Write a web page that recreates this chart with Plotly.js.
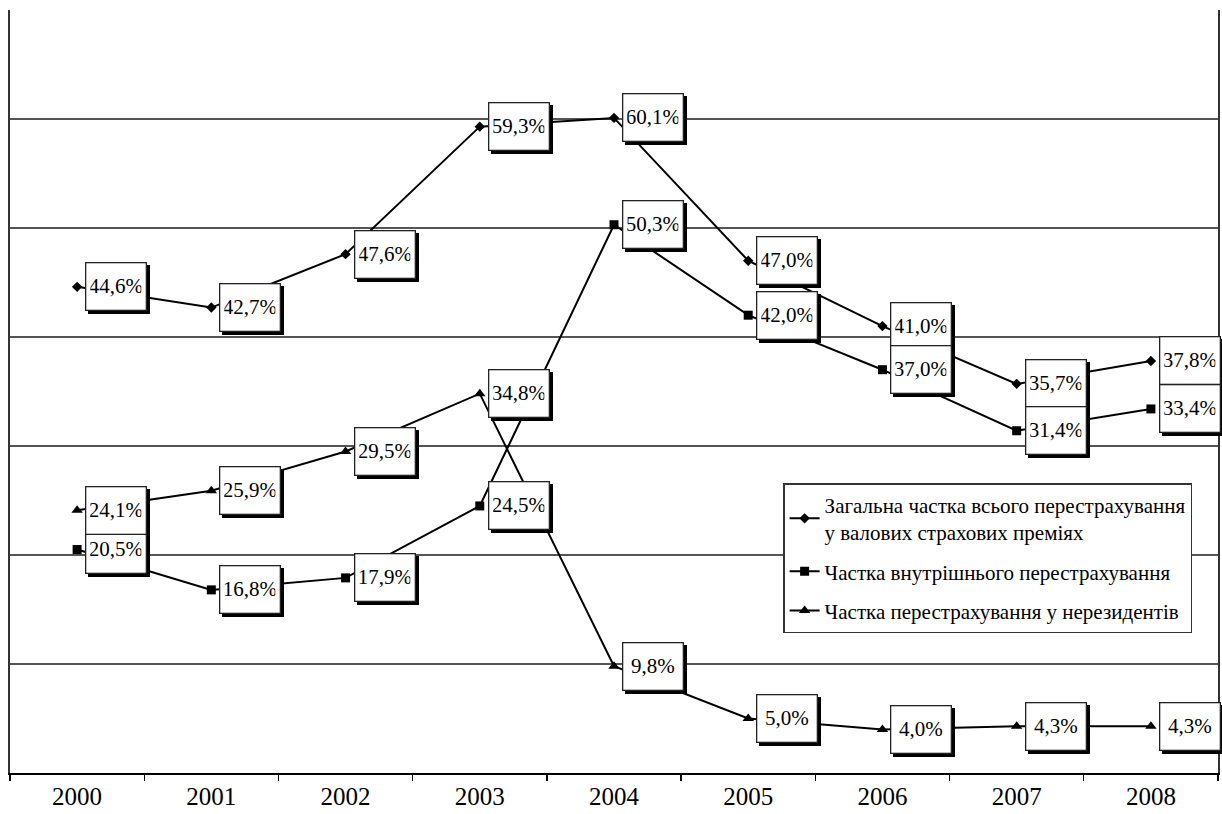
<!DOCTYPE html>
<html>
<head>
<meta charset="utf-8">
<script src="https://cdn.plot.ly/plotly-3.0.1.min.js"></script>
<style>html,body{margin:0;padding:0;background:#fff}#chart{width:1222px;height:814px}</style>
</head>
<body>
<div id="chart"></div>
<script>
const years = ["2000","2001","2002","2003","2004","2005","2006","2007","2008"];
const totalShare = [44.6, 42.7, 47.6, 59.3, 60.1, 47.0, 41.0, 35.7, 37.8];
const domesticShare = [20.5, 16.8, 17.9, 24.5, 50.3, 42.0, 37.0, 31.4, 33.4];
const nonresidentShare = [24.1, 25.9, 29.5, 34.8, 9.8, 5.0, 4.0, 4.3, 4.3];
const seriesNames = [
  "Загальна частка всього перестрахування<br>у валових страхових преміях",
  "Частка внутрішнього перестрахування",
  "Частка перестрахування у нерезидентів"
];

const FONT = "'Liberation Serif', serif";
const series = [
  {y: totalShare, symbol: "diamond", size: 8},
  {y: domesticShare, symbol: "square", size: 9},
  {y: nonresidentShare, symbol: "triangle-up", size: 10}
];

const traces = series.map((s, i) => ({
  x: years, y: s.y, name: seriesNames[i], type: "scatter", mode: "lines+markers",
  legendgroup: "g" + i,
  line: {color: "#000", width: 2},
  marker: {color: "#000", symbol: s.symbol, size: s.size}
}));

const fmt = v => v.toFixed(1).replace(".", ",") + "%";
const boxStyle = {showarrow: false, xanchor: "left", yanchor: "middle",
  width: 51, height: 38, borderpad: 4, borderwidth: 1.3,
  font: {family: FONT, size: 21, color: "#000"}};
const annotations = [];
// drop shadows (empty boxes)
series.forEach(s => {
  s.y.forEach((v, j) => {
    annotations.push(Object.assign({x: j, y: v, xref: "x", yref: "y", text: "\u00a0",
      xshift: 11, yshift: -3, bgcolor: "#000", bordercolor: "#000"}, boxStyle));
  });
});
// value labels
series.forEach(s => {
  s.y.forEach((v, j) => {
    annotations.push(Object.assign({x: j, y: v, xref: "x", yref: "y", text: fmt(v),
      xshift: 8, bgcolor: "#fff", bordercolor: "#222"}, boxStyle));
  });
});

const layout = {
  width: 1222, height: 814,
  margin: {l: 10, r: 4, t: 10, b: 41},
  paper_bgcolor: "#fff", plot_bgcolor: "#fff",
  font: {family: FONT, color: "#000"},
  showlegend: true,
  legend: {x: 0.64, y: 0.38, xanchor: "left", yanchor: "top", traceorder: "grouped",
    bgcolor: "#fff", bordercolor: "#333", borderwidth: 1.5,
    font: {family: FONT, size: 21, color: "#000"}, tracegroupgap: 9},
  xaxis: {type: "category", tickson: "boundaries", ticks: "outside", ticklen: 6, tickwidth: 1.3, tickcolor: "#000",
    showgrid: false, showline: true, linecolor: "#000", linewidth: 2,
    tickfont: {family: FONT, size: 25, color: "#000"}, range: [-0.5, 8.5]},
  yaxis: {range: [0, 70], dtick: 10, showticklabels: false, ticks: "",
    showgrid: true, gridcolor: "#555", gridwidth: 1.3, zeroline: false,
    showline: true, linecolor: "#333", linewidth: 2, mirror: true},
  annotations: annotations
};

Plotly.newPlot("chart", traces, layout, {staticPlot: true});
</script>
</body>
</html>
